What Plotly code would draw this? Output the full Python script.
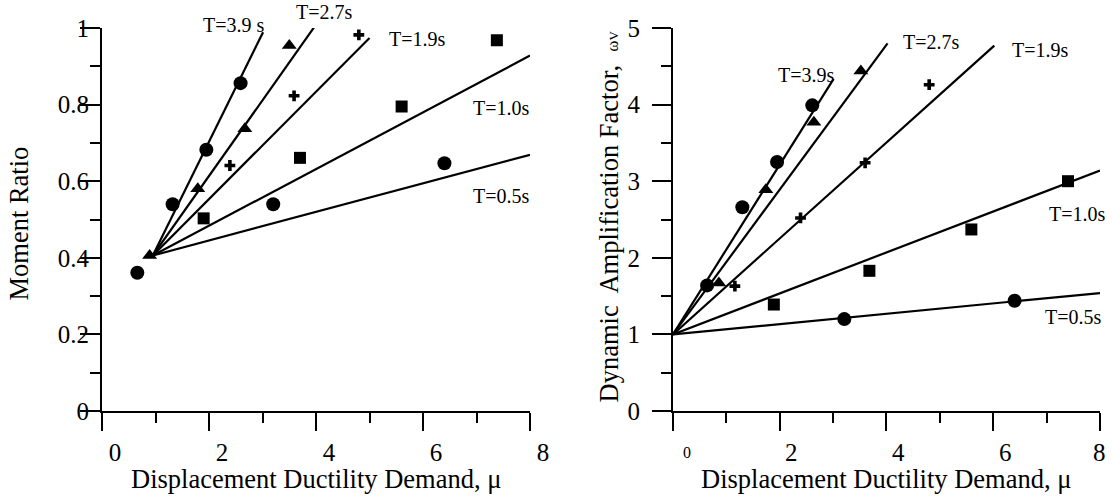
import plotly.graph_objects as go

# ---------------- Moment ratio vs. ductility (left panel) ----------------
mr_t39_mu = [0.66, 1.32, 1.95, 2.59]
mr_t39_val = [0.361, 0.540, 0.682, 0.856]
mr_t27_mu = [0.89, 1.79, 2.67, 3.50]
mr_t27_val = [0.406, 0.580, 0.737, 0.954]
mr_t19_mu = [2.39, 3.59, 4.80]
mr_t19_val = [0.641, 0.823, 0.982]
mr_t10_mu = [1.90, 3.70, 5.60, 7.38]
mr_t10_val = [0.503, 0.661, 0.795, 0.968]
mr_t05_mu = [3.20, 6.40]
mr_t05_val = [0.540, 0.647]

# trend lines share one origin; one end point per period (3.9, 2.7, 1.9, 1.0, 0.5 s)
mr_fit_origin_mu = 0.95
mr_fit_origin_val = 0.406
mr_fit_end_mu = [3.01, 4.01, 5.00, 8.0, 8.0]
mr_fit_end_val = [0.989, 1.011, 0.974, 0.928, 0.669]

mr_labels = ["T=3.9 s", "T=2.7s", "T=1.9s", "T=1.0s", "T=0.5s"]
mr_label_mu = [2.46, 4.14, 5.88, 7.45, 7.45]
mr_label_val = [1.009, 1.042, 0.972, 0.792, 0.561]

# ---------------- Dynamic amplification factor (right panel) ----------------
daf_t39_mu = [0.64, 1.30, 1.95, 2.61]
daf_t39_val = [1.64, 2.66, 3.25, 3.99]
daf_t27_mu = [0.86, 1.74, 2.64, 3.52]
daf_t27_val = [1.67, 2.89, 3.77, 4.44]
daf_t19_mu = [1.16, 2.39, 3.60, 4.80]
daf_t19_val = [1.63, 2.52, 3.24, 4.26]
daf_t10_mu = [1.89, 3.68, 5.59, 7.40]
daf_t10_val = [1.39, 1.83, 2.37, 3.00]
daf_t05_mu = [3.21, 6.40]
daf_t05_val = [1.20, 1.44]

daf_fit_origin_mu = 0.0
daf_fit_origin_val = 1.0
daf_fit_end_mu = [3.01, 4.02, 6.02, 8.0, 8.0]
daf_fit_end_val = [4.335, 4.80, 4.77, 3.14, 1.54]

daf_labels = ["T=3.9s", "T=2.7s", "T=1.9s", "T=1.0s", "T=0.5s"]
daf_label_mu = [2.50, 4.83, 6.87, 7.56, 7.50]
daf_label_val = [4.387, 4.816, 4.707, 2.575, 1.226]

# ---------------- axes ----------------
x_range = [0, 8]
mr_range = [0, 1]
daf_range = [0, 5]
x_ticks = [0, 2, 4, 6, 8]
x_minor = [1, 3, 5, 7]
mr_ticks = [0, 0.2, 0.4, 0.6, 0.8, 1]
mr_minor = [0.1, 0.3, 0.5, 0.7, 0.9]
daf_ticks = [0, 1, 2, 3, 4, 5]
daf_minor = [0.5, 1.5, 2.5, 3.5, 4.5]
daf_xtick_text = ["0", "2", "4", "6", "8"]

FONT = "Liberation Serif, Times New Roman, serif"
BLACK = "black"


def frac(v, rng):
    """Position of a data value as a fraction of the axis domain."""
    return (v - rng[0]) / (rng[1] - rng[0])


fig = go.Figure()

series_symbols = ["circle", "triangle-up", "cross", "square", "circle"]
series_sizes = [14, 13, 9, 12, 14]

mr_series = [(mr_t39_mu, mr_t39_val), (mr_t27_mu, mr_t27_val), (mr_t19_mu, mr_t19_val),
             (mr_t10_mu, mr_t10_val), (mr_t05_mu, mr_t05_val)]
daf_series = [(daf_t39_mu, daf_t39_val), (daf_t27_mu, daf_t27_val), (daf_t19_mu, daf_t19_val),
              (daf_t10_mu, daf_t10_val), (daf_t05_mu, daf_t05_val)]

# fitted lines
for xe, ye in zip(mr_fit_end_mu, mr_fit_end_val):
    fig.add_trace(go.Scatter(x=[mr_fit_origin_mu, xe], y=[mr_fit_origin_val, ye], mode="lines",
                             line=dict(color=BLACK, width=2.2), xaxis="x", yaxis="y",
                             showlegend=False, hoverinfo="skip"))
for xe, ye in zip(daf_fit_end_mu, daf_fit_end_val):
    fig.add_trace(go.Scatter(x=[daf_fit_origin_mu, xe], y=[daf_fit_origin_val, ye], mode="lines",
                             line=dict(color=BLACK, width=2.2), xaxis="x2", yaxis="y2",
                             showlegend=False, hoverinfo="skip"))

# measured points
for (xs, ys), sym, sz in zip(mr_series, series_symbols, series_sizes):
    fig.add_trace(go.Scatter(x=xs, y=ys, mode="markers", xaxis="x", yaxis="y",
                             marker=dict(symbol=sym, size=sz, color=BLACK, line=dict(width=0)),
                             showlegend=False, cliponaxis=False))
for (xs, ys), sym, sz in zip(daf_series, series_symbols, series_sizes):
    fig.add_trace(go.Scatter(x=xs, y=ys, mode="markers", xaxis="x2", yaxis="y2",
                             marker=dict(symbol=sym, size=sz, color=BLACK, line=dict(width=0)),
                             showlegend=False, cliponaxis=False))

label_font = dict(size=20, family=FONT, color=BLACK)
annotations = []
# period labels (domain refs so the ones above the top of the axis still show)
for txt, xv, yv in zip(mr_labels, mr_label_mu, mr_label_val):
    annotations.append(dict(text=txt, x=frac(xv, x_range), y=frac(yv, mr_range),
                            xref="x domain", yref="y domain", xanchor="center", yanchor="middle",
                            showarrow=False, font=label_font))
for txt, xv, yv in zip(daf_labels, daf_label_mu, daf_label_val):
    annotations.append(dict(text=txt, x=frac(xv, x_range), y=frac(yv, daf_range),
                            xref="x2 domain", yref="y2 domain", xanchor="center", yanchor="middle",
                            showarrow=False, font=label_font))

# tick labels of the right-hand x axis
xlab_shift = [14, 12, 12, 12, 0]
xlab_size = [16, 25, 25, 25, 25]
for txt, xv, sh, fs in zip(daf_xtick_text, x_ticks, xlab_shift, xlab_size):
    annotations.append(dict(text=txt, x=xv, y=0, xref="x2", yref="paper",
                            xanchor="center", yanchor="middle",
                            xshift=sh, yshift=-41, showarrow=False,
                            font=dict(size=fs, family=FONT, color=BLACK)))

# axis titles
title_font = dict(size=26.5, family=FONT, color=BLACK)
annotations += [
    dict(text="Displacement Ductility Demand, μ", x=0.5, y=0, xref="x domain", yref="paper",
         xanchor="center", yanchor="middle", yshift=-68, showarrow=False, font=title_font),
    dict(text="Displacement Ductility Demand, μ", x=0.5, y=0, xref="x2 domain", yref="paper",
         xanchor="center", yanchor="middle", yshift=-68, showarrow=False, font=title_font),
    dict(text="Moment Ratio", x=0, y=0.5, xref="x domain", yref="paper", textangle=-90,
         xanchor="center", yanchor="middle", xshift=-84, yshift=-4, showarrow=False,
         font=title_font),
    dict(text="Dynamic\u00a0 Amplification Factor,\u00a0 "
              "<span style='font-size:17px'>ω</span><span style='font-size:13px'>V</span>",
         x=0, y=0.5, xref="x2 domain", yref="paper", textangle=-90,
         xanchor="center", yanchor="middle", xshift=-64, yshift=3, showarrow=False,
         font=title_font),
]

axis_common = dict(showline=True, linewidth=2, linecolor=BLACK, showgrid=False, zeroline=False,
                   automargin=False, ticks="outside", tickwidth=2, tickcolor=BLACK,
                   tickfont=dict(size=25, family=FONT, color=BLACK))

fig.update_layout(
    template="none",
    width=1112, height=497, autosize=False,
    margin=dict(l=102, r=12, t=28, b=86, autoexpand=False),
    paper_bgcolor="white", plot_bgcolor="white",
    font=dict(family=FONT, color=BLACK),
    showlegend=False,
    annotations=annotations,
    xaxis=dict(axis_common, domain=[0, 0.4289], range=x_range, anchor="y",
               tickvals=x_ticks, ticklen=18, ticklabelshift=13,
               minor=dict(tickvals=x_minor, ticklen=10, tickwidth=2, tickcolor=BLACK, ticks="outside")),
    yaxis=dict(axis_common, domain=[0, 1], range=mr_range, anchor="x",
               tickvals=mr_ticks, ticklen=20, ticklabelstandoff=-14,
               minor=dict(tickvals=mr_minor, ticklen=10, tickwidth=2, tickcolor=BLACK, ticks="outside")),
    xaxis2=dict(axis_common, domain=[0.5721, 1], range=x_range, anchor="y2",
                tickvals=x_ticks, ticklen=18, showticklabels=False,
                minor=dict(tickvals=x_minor, ticklen=10, tickwidth=2, tickcolor=BLACK, ticks="outside")),
    yaxis2=dict(axis_common, domain=[0, 1], range=daf_range, anchor="x2",
                tickvals=daf_ticks, ticklen=19, ticklabelstandoff=7,
                minor=dict(tickvals=daf_minor, ticklen=10, tickwidth=2, tickcolor=BLACK, ticks="outside")),
)

fig.write_html("out.html", config={"responsive": False})
